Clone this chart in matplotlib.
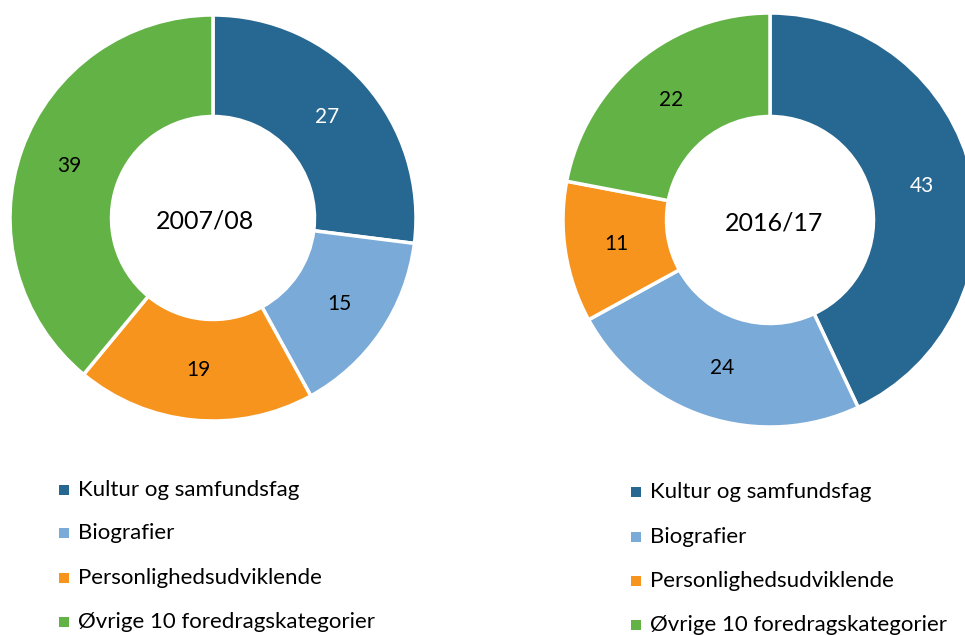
import matplotlib
matplotlib.use("Agg")
import matplotlib.pyplot as plt

plt.rcParams["font.family"] = ["Lato", "DejaVu Sans"]

categories = [
    "Kultur og samfundsfag",
    "Biografier",
    "Personlighedsudviklende",
    "Øvrige 10 foredragskategorier",
]
colors = ["#276892", "#7aaad8", "#f7941d", "#62b246"]
values_0708 = [27, 15, 19, 39]
values_1617 = [43, 24, 11, 22]
years = ["2007/08", "2016/17"]

W, H = 965, 635
fig = plt.figure(figsize=(W / 100, H / 100), dpi=100)
ax = fig.add_axes([0, 0, 1, 1])

# (center x, center y, outer radius) in pixel units, y measured from top
donuts = [(213, 218, 203), (770, 220, 207)]
title_x = [205, 774]
legends = [(64, [490, 533, 578, 622]), (636, [492, 537, 581, 625])]

for values, year, (cx, cy, r), tx, (lx, rows) in zip(
    [values_0708, values_1617], years, donuts, title_x, legends
):
    wedges, texts, autotexts = ax.pie(
        values,
        colors=colors,
        center=(cx, H - cy),
        radius=r,
        startangle=90,
        counterclock=False,
        autopct=lambda p: f"{p:.0f}",
        pctdistance=0.75,
        wedgeprops=dict(width=r * 0.5, edgecolor="white", linewidth=2.5),
        textprops=dict(fontsize=15),
    )
    for t, c in zip(autotexts, colors):
        t.set_color("white" if c == colors[0] else "black")
    ax.text(tx, H - cy - 3, year, ha="center", va="center", fontsize=18)

    for cat, c, y in zip(categories, colors, rows):
        ax.scatter([lx], [H - y], marker="s", s=55, color=c, linewidths=0)
        ax.text(lx + 14, H - y, cat, ha="left", va="center", fontsize=16)

ax.set_xlim(0, W)
ax.set_ylim(0, H)
ax.set_aspect("equal")
ax.axis("off")

fig.savefig("out.png", dpi=100)
